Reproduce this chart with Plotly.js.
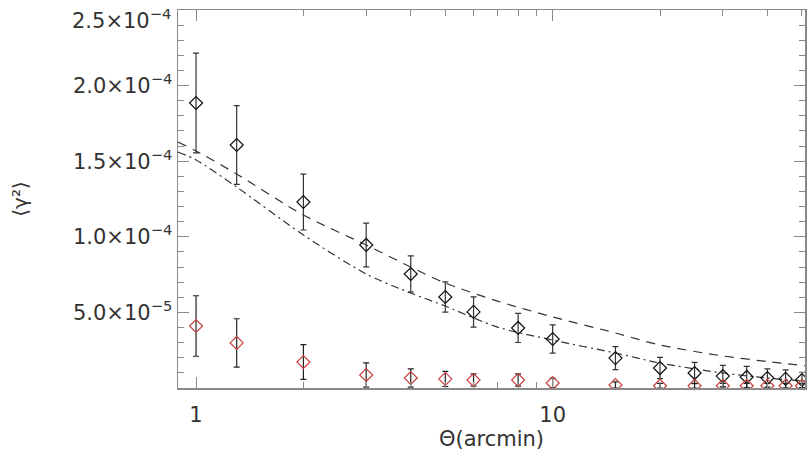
<!DOCTYPE html>
<html>
<head>
<meta charset="utf-8">
<script src="https://cdn.plot.ly/plotly-3.0.1.min.js"></script>
<style>html,body{margin:0;padding:0;background:#fff;}#chart{width:809px;height:453px;}</style>
</head>
<body>
<div id="chart"></div>
<script>
// Measured shear variance (black) with 1-sigma errors
const thetaData = [1, 1.3, 2, 3, 4, 5, 6, 8, 10, 15, 20, 25, 30, 35, 40, 45, 50];
const gammaE = [1.885e-4, 1.607e-4, 1.23e-4, 9.46e-5, 7.54e-5, 6.02e-5, 5.03e-5, 3.97e-5, 3.24e-5, 1.98e-5, 1.32e-5, 9.9e-6, 7.9e-6, 7.3e-6, 6.6e-6, 6.0e-6, 5.3e-6];
const gammaEErr = [3.3e-5, 2.6e-5, 1.85e-5, 1.45e-5, 1.2e-5, 1.0e-5, 1.0e-5, 9.6e-6, 9.3e-6, 7.6e-6, 7.0e-6, 7.0e-6, 7.0e-6, 7.0e-6, 6.0e-6, 6.0e-6, 5.0e-6];
// Residual / B-mode (red)
const gammaB = [4.1e-5, 2.98e-5, 1.72e-5, 8.6e-6, 6.6e-6, 6.0e-6, 5.3e-6, 5.3e-6, 3.3e-6, 2.0e-6, 1.5e-6, 1.5e-6, 1.5e-6, 1.5e-6, 1.5e-6, 1.5e-6, 1.5e-6];
const gammaBErr = [2.0e-5, 1.6e-5, 1.15e-5, 8.0e-6, 6.0e-6, 5.0e-6, 4.0e-6, 4.0e-6, 3.0e-6, 2.0e-6, 1.5e-6, 1.5e-6, 1.5e-6, 1.5e-6, 1.5e-6, 1.5e-6, 1.5e-6];
// Model curves
const thetaModel = [0.89, 1, 1.3, 2, 3, 4, 5, 7, 10, 15, 20, 30, 40, 51];
const modelDashed = [1.627e-4, 1.568e-4, 1.415e-4, 1.144e-4, 9.46e-5, 8.0e-5, 6.94e-5, 5.75e-5, 4.70e-5, 3.64e-5, 2.84e-5, 2.12e-5, 1.75e-5, 1.48e-5];
const modelDashDot = [1.561e-4, 1.508e-4, 1.329e-4, 1.012e-4, 7.54e-5, 6.28e-5, 5.42e-5, 4.03e-5, 3.17e-5, 2.31e-5, 1.65e-5, 9.9e-6, 6.6e-6, 4.6e-6];
// Tick labels (top label 2.5e-4 drawn as an annotation so it is not cut at the top edge)
const yTickVals = [5e-5, 1e-4, 1.5e-4, 2e-4, 2.5e-4];
const yTickText = ['5.0×10<sup>−5</sup>', '1.0×10<sup>−4</sup>', '1.5×10<sup>−4</sup>', '2.0×10<sup>−4</sup>', ''];
const yTopVal = 2.5e-4;
const yTopText = '2.5×10<sup>−4</sup>';
const yMinorVals = [1e-5,2e-5,3e-5,4e-5,6e-5,7e-5,8e-5,9e-5,1.1e-4,1.2e-4,1.3e-4,1.4e-4,1.6e-4,1.7e-4,1.8e-4,1.9e-4,2.1e-4,2.2e-4,2.3e-4,2.4e-4];
const xTickVals = [1, 10];
const xTickText = ['1', '10'];
const xMinorVals = [2,3,4,5,6,7,8,9,20,30,40,50];

const axisCol = '#8a8a8a';
const fontFam = 'DejaVu Sans, Verdana, sans-serif';

const traces = [
  {x: thetaModel, y: modelDashed, mode: 'lines', line: {color: '#333', width: 1.2, dash: '9px,7px', shape: 'spline', smoothing: 0.8}, hoverinfo: 'skip'},
  {x: thetaModel, y: modelDashDot, mode: 'lines', line: {color: '#333', width: 1.2, dash: '8px,4px,2px,4px', shape: 'spline', smoothing: 0.8}, hoverinfo: 'skip'},
  {x: thetaData, y: gammaE, mode: 'markers', type: 'scatter',
   marker: {symbol: 'diamond-open', size: 10, color: '#111', line: {width: 1.2}},
   error_y: {type: 'data', array: gammaEErr, visible: true, color: '#333', thickness: 1.2, width: 3}},
  {x: thetaData, y: gammaB, mode: 'markers', type: 'scatter',
   marker: {symbol: 'diamond-open', size: 10, color: '#c8403f', line: {width: 1.2}},
   error_y: {type: 'data', array: gammaBErr, visible: true, color: '#222', thickness: 1.2, width: 3}}
];

const layout = {
  width: 809, height: 453,
  margin: {l: 178, r: 4, t: 10, b: 65},
  paper_bgcolor: '#fff', plot_bgcolor: '#fff',
  showlegend: false,
  font: {family: fontFam, color: '#333', size: 21},
  xaxis: {
    type: 'log', range: [Math.log10(0.89), Math.log10(51)],
    tickmode: 'array', tickvals: xTickVals, ticktext: xTickText,
    ticks: 'inside', ticklen: 11, tickwidth: 1, tickcolor: axisCol,
    minor: {tickmode: 'array', tickvals: xMinorVals, ticks: 'inside', ticklen: 6, tickcolor: axisCol, tickwidth: 1},
    showline: true, linecolor: axisCol, linewidth: 1.5, mirror: 'allticks',
    showgrid: false, zeroline: false,
    ticklabelstandoff: 7,
    tickfont: {size: 21, color: '#333'},
    title: {text: 'Θ(arcmin)', font: {size: 21, color: '#333'}, standoff: 0}
  },
  yaxis: {
    range: [0, 2.5e-4],
    tickmode: 'array', tickvals: yTickVals, ticktext: yTickText,
    ticklabeloverflow: 'allow',
    ticks: 'inside', ticklen: 11, tickwidth: 1, tickcolor: axisCol,
    minor: {tickmode: 'array', tickvals: yMinorVals, ticks: 'inside', ticklen: 6, tickcolor: axisCol, tickwidth: 1},
    showline: true, linecolor: axisCol, linewidth: 1.5, mirror: 'allticks',
    showgrid: false, zeroline: false,
    tickfont: {size: 21, color: '#333'},
    title: {text: '⟨γ²⟩', font: {size: 20, color: '#333'}, standoff: 40}
  },
  annotations: [{
    xref: 'paper', x: 0, xanchor: 'right', xshift: -5,
    yref: 'y', y: yTopVal, yanchor: 'middle', yshift: -9,
    text: yTopText, showarrow: false,
    font: {family: fontFam, size: 21, color: '#333'}
  }]
};

Plotly.newPlot('chart', traces, layout, {displayModeBar: false, staticPlot: true});
</script>
</body>
</html>
